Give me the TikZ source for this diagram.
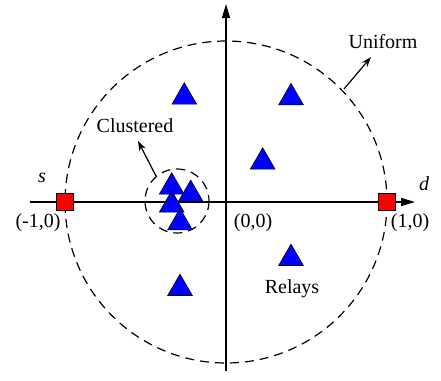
\documentclass[tikz,border=0pt]{standalone}
\usepackage{fontspec}
\setmainfont{Liberation Serif}
\usetikzlibrary{arrows.meta,shapes.geometric}
\tikzset{
  relay/.style={regular polygon, regular polygon sides=3, minimum size=28.5pt, inner sep=0pt, fill=blue, draw=black, line width=0.6pt},
  node1/.style={rectangle, minimum size=17pt, inner sep=0pt, fill=red, draw=black, line width=0.8pt},
  lbl/.style={font=\fontsize{20}{22}\selectfont, inner sep=0pt},
  ilbl/.style={font=\fontsize{20}{22}\selectfont\itshape, inner sep=0pt},
  axis/.style={line width=1.4pt, -{Triangle[length=14pt,width=8pt]}},
  dsh/.style={line width=1.2pt, dash pattern=on 9pt off 6pt},
  pointer/.style={line width=1.2pt, -{Stealth[length=10pt,width=7pt]}}
}
\begin{document}
\begin{tikzpicture}[x=1pt,y=-1pt]
\useasboundingbox (0,0) rectangle (441,380);
% axes
\coordinate (xl) at (30,202);
\coordinate (xr) at (415,202);
\coordinate (yb) at (226,371);
\coordinate (yt) at (226,4);
\draw[axis] (xl) -- (xr);
\draw[axis] (yb) -- (yt);
% big circle
\coordinate (o) at (226,202);
\draw[dsh] (o) circle[radius=161];
% cluster circle
\coordinate (cc) at (177,201);
\draw[dsh] (cc) circle[radius=32];
% relays
\node[relay] (t1) at (184.3,97) {};
\node[relay] (t2) at (291,97.7) {};
\node[relay] (t3) at (262.7,162) {};
\node[relay] (t4) at (291,258.4) {};
\node[relay] (t5) at (180,288.4) {};
\node[relay] (c1) at (171.7,187) {};
\node[relay] (c2) at (190.7,194.4) {};
\node[relay] (c3) at (171.7,205) {};
\node[relay] (c4) at (180,222.7) {};
% source and destination
\node[node1] (s) at (65,202) {};
\node[node1] (d) at (387,202) {};
% labels
\node[ilbl] (sl) at (42,178) {s};
\node[ilbl] (dl) at (424,184) {d};
\node[lbl] (m1) at (38,223) {(-1,0)};
\node[lbl] (p1) at (410,223) {(1,0)};
\node[lbl] (zz) at (253,223) {(0,0)};
\node[lbl] (rl) at (292,289) {Relays};
\node[lbl] (cl) at (135,126) {Clustered};
\node[lbl] (ul) at (383,42) {Uniform};
% pointers
\coordinate (cp) at (156,176);
\coordinate (up) at (344,89);
\draw[pointer] (cp) -- (138,141);
\draw[pointer] (up) -- (371,57);
\end{tikzpicture}
\end{document}
